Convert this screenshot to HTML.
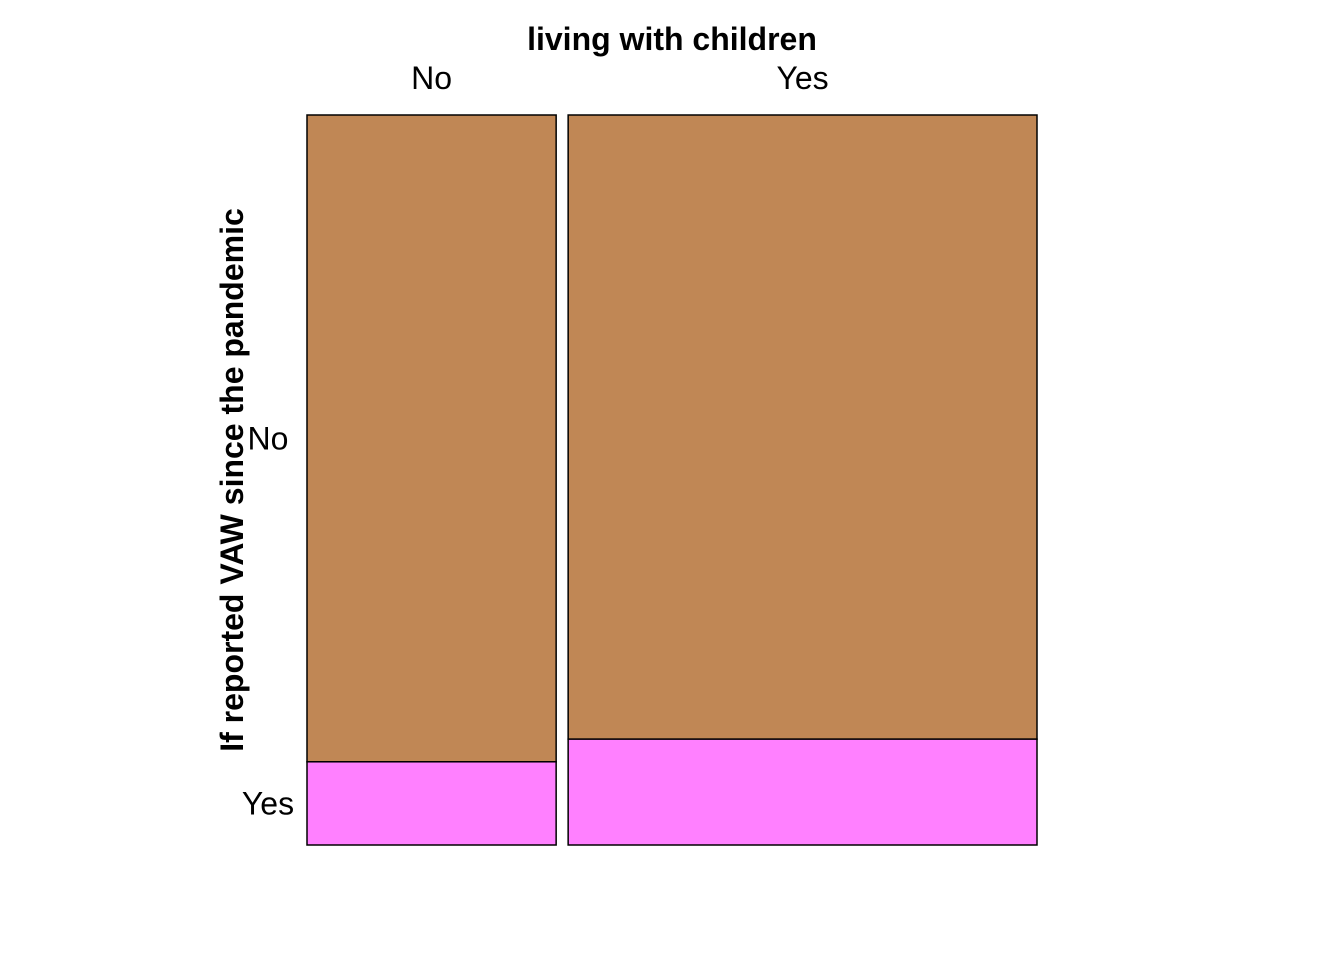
<!DOCTYPE html>
<html><head><meta charset="utf-8"><style>
html,body{margin:0;padding:0;background:#fff;}
svg{display:block;font-family:"Liberation Sans",Arial,sans-serif;}
</style></head><body>
<svg id="chart" width="1344" height="960">
<text x="672" y="50" font-size="32" font-weight="bold" text-anchor="middle">living with children</text>
<text transform="translate(243,480) rotate(-90)" font-size="32" font-weight="bold" text-anchor="middle">If reported VAW since the pandemic</text>
<g id="marks"></g>
</svg>
<script>
const colCategories = ["No", "Yes"];
const rowCategories = ["No", "Yes"];
const colShare = [0.347, 0.653];
const yesShare = [0.114, 0.145];
const rowColors = ["#C08755", "#FF80FF"];

const marksG = document.getElementById('marks');
const NS = 'http://www.w3.org/2000/svg';
const plotLeft = 307, plotRight = 1037, plotTop = 115, plotBottom = 845, colGap = 12;
const usableW = plotRight - plotLeft - colGap * (colCategories.length - 1);
const plotH = plotBottom - plotTop;
function yScale(f) { return plotBottom - f * plotH; }
let cx = plotLeft;
colCategories.forEach((c, i) => {
  const w = colShare[i] * usableW;
  const splits = [1 - yesShare[i], yesShare[i]];
  let cum = 1;
  splits.forEach((s, j) => {
    const r = document.createElementNS(NS, 'rect');
    const y0 = yScale(cum), y1 = yScale(cum - s);
    r.setAttribute('x', cx); r.setAttribute('y', y0);
    r.setAttribute('width', w); r.setAttribute('height', y1 - y0);
    r.setAttribute('fill', rowColors[j]); r.setAttribute('stroke', '#000'); r.setAttribute('stroke-width', '1.5');
    
    
    marksG.appendChild(r);
    if (i === 0) {
      const t = document.createElementNS(NS, 'text');
      t.setAttribute('x', 268); t.setAttribute('y', (y0 + y1) / 2 + 11);
      t.setAttribute('font-size', '32'); t.setAttribute('text-anchor', 'middle');
      t.textContent = rowCategories[j];
      
      
      marksG.appendChild(t);
    }
    cum -= s;
  });
  const t = document.createElementNS(NS, 'text');
  t.setAttribute('x', cx + w / 2); t.setAttribute('y', 89);
  t.setAttribute('font-size', '32'); t.setAttribute('text-anchor', 'middle');
  t.textContent = c;
  
  
  marksG.appendChild(t);
  cx += w + colGap;
});
</script>
</body></html>
